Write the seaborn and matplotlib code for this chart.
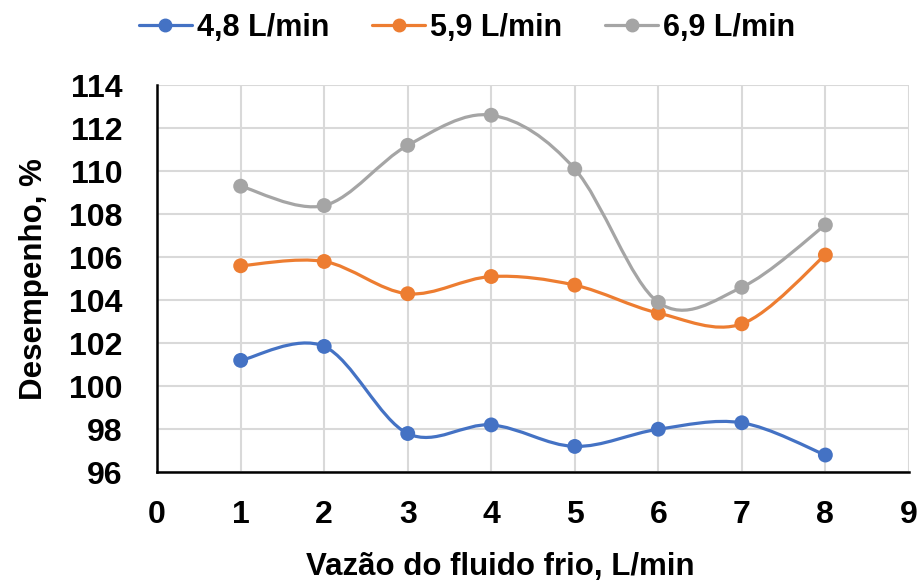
import numpy as np
import pandas as pd
import matplotlib
matplotlib.use("Agg")
import matplotlib.pyplot as plt
from matplotlib.path import Path
from matplotlib.patches import PathPatch
from matplotlib.lines import Line2D
import seaborn as sns

x_vals = [1, 2, 3, 4, 5, 6, 7, 8]
s48 = [101.2, 101.85, 97.8, 98.2, 97.2, 98.0, 98.3, 96.8]
s59 = [105.6, 105.8, 104.3, 105.1, 104.7, 103.4, 102.9, 106.1]
s69 = [109.3, 108.4, 111.2, 112.6, 110.1, 103.9, 104.6, 107.5]
series_names = ["4,8 L/min", "5,9 L/min", "6,9 L/min"]
colors = ["#4472C4", "#ED7D31", "#A5A5A5"]
x_ticks = list(range(0, 10))
y_ticks = list(range(96, 115, 2))

sns.set_theme(style="white")
plt.rcParams['font.family'] = ['Liberation Sans', 'DejaVu Sans']
plt.rcParams['font.weight'] = 'bold'
plt.rcParams['text.color'] = 'black'
plt.rcParams['axes.labelcolor'] = 'black'
plt.rcParams['xtick.color'] = 'black'
plt.rcParams['ytick.color'] = 'black'

df = pd.DataFrame({
    "x": x_vals * 3,
    "y": s48 + s59 + s69,
    "serie": sum([[n] * len(x_vals) for n in series_names], []),
})

fig = plt.figure(figsize=(9.19, 5.83), dpi=100)
ax = fig.add_axes([0.171, 0.190, 0.818, 0.664])

def smooth_path(xs, ys):
    P = np.column_stack([xs, ys]).astype(float)
    n = len(P)
    verts = [P[0]]
    codes = [Path.MOVETO]
    for i in range(n - 1):
        p0 = P[i - 1] if i > 0 else P[i]
        p1 = P[i]
        p2 = P[i + 1]
        p3 = P[i + 2] if i + 2 < n else P[i + 1]
        c1 = p1 + (p2 - p0) / 6.0
        c2 = p2 - (p3 - p1) / 6.0
        verts += [c1, c2, p2]
        codes += [Path.CURVE4] * 3
    return Path(verts, codes)

for name, col in zip(series_names, colors):
    sub = df[df.serie == name]
    patch = PathPatch(smooth_path(sub.x.values, sub.y.values), facecolor="none",
                      edgecolor=col, lw=2.3, zorder=3, capstyle="round")
    ax.add_patch(patch)

sns.scatterplot(data=df, x="x", y="y", hue="serie", palette=colors, s=115,
                edgecolor="none", ax=ax, zorder=4, legend=False)

ax.set_xlim(0, 9)
ax.set_ylim(96, 114)
ax.set_xticks(x_ticks)
ax.set_yticks(y_ticks)
ax.grid(True, color="#d9d9d9", lw=1.5)
ax.set_axisbelow(True)
for s in ["top", "right"]:
    ax.spines[s].set_visible(False)
for s in ["left", "bottom"]:
    ax.spines[s].set_color("black")
    ax.spines[s].set_linewidth(1.8)
ax.tick_params(axis="both", direction="in", length=6.5, width=1.5, color="black",
               labelsize=23, labelcolor="black")
ax.tick_params(axis="y", pad=25)
ax.tick_params(axis="x", pad=20)
for lab in ax.get_xticklabels() + ax.get_yticklabels():
    lab.set_fontweight("bold")
ax.set_xlabel("Vazão do fluido frio, L/min", fontsize=22.5, fontweight="bold")
ax.xaxis.set_label_coords(0.457, -0.207)
ax.set_ylabel("Desempenho, %", fontsize=22.5, fontweight="bold", labelpad=14)

handles = [Line2D([0], [0], color=c, lw=2.3, marker="o", markersize=9) for c in colors]
fig.legend(handles, series_names, loc="center", bbox_to_anchor=(0.508, 0.952), ncol=3,
           frameon=False, handlelength=1.75, handletextpad=0.15,
           columnspacing=1.4, prop={"weight": "bold", "size": 22})

fig.savefig("out.png", dpi=100)
